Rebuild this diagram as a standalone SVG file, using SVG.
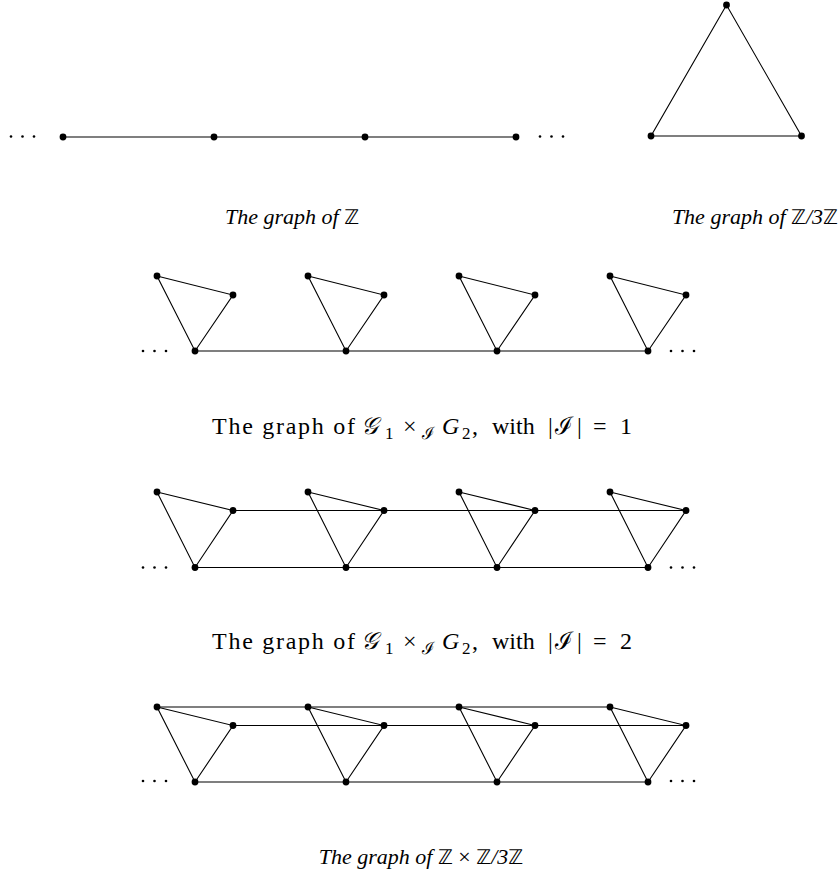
<svg xmlns="http://www.w3.org/2000/svg" width="839" height="877" viewBox="0 0 839 877">
<style>
.e{stroke:#000;stroke-width:1.1;fill:none}
.n{fill:#000}
.t{font-family:"Liberation Serif","DejaVu Serif",serif;font-size:22px;fill:#000}
.u{font-size:24px}
.i{font-style:italic}
.bb{font-family:"DejaVu Sans","Noto Sans",sans-serif;font-style:normal;font-size:20px}
.m{font-family:"DejaVu Serif","Noto Sans",serif;font-style:italic}
.s{font-size:17px}
</style>
<defs>
<circle id="v" r="3.4"/>
<g id="dots"><circle cx="0" cy="0" r="1.3"/><circle cx="11.5" cy="0" r="1.3"/><circle cx="23" cy="0" r="1.3"/></g>
</defs>

<g id="connectors">
<line class="e" x1="63" y1="137" x2="516" y2="137"/>
<polygon class="e" points="726.5,5 651,136 801.5,136"/>
<line class="e" x1="195" y1="351" x2="648" y2="351"/>
<polygon class="e" points="157,276 233,295 195,351"/>
<polygon class="e" points="308,276 384,295 346,351"/>
<polygon class="e" points="459,276 535,295 497,351"/>
<polygon class="e" points="610,276 686,295 648,351"/>
<line class="e" x1="233" y1="510.5" x2="686" y2="510.5"/>
<line class="e" x1="195" y1="567.5" x2="648" y2="567.5"/>
<polygon class="e" points="157,492 233,510.5 195,567.5"/>
<polygon class="e" points="308,492 384,510.5 346,567.5"/>
<polygon class="e" points="459,492 535,510.5 497,567.5"/>
<polygon class="e" points="610,492 686,510.5 648,567.5"/>
<line class="e" x1="157" y1="707" x2="610" y2="707"/>
<line class="e" x1="233" y1="725.5" x2="686" y2="725.5"/>
<line class="e" x1="195" y1="782" x2="648" y2="782"/>
<polygon class="e" points="157,707 233,725.5 195,782"/>
<polygon class="e" points="308,707 384,725.5 346,782"/>
<polygon class="e" points="459,707 535,725.5 497,782"/>
<polygon class="e" points="610,707 686,725.5 648,782"/>
</g>

<g id="graph-Z" class="n">
<use href="#dots" x="11" y="136.5"/>
<use href="#v" x="63" y="137"/><use href="#v" x="214" y="137"/><use href="#v" x="365" y="137"/><use href="#v" x="516" y="137"/>
<use href="#dots" x="540" y="136.5"/>
</g>
<g id="graph-Z3Z" class="n">
<use href="#v" x="726.5" y="5"/><use href="#v" x="651" y="136"/><use href="#v" x="801.5" y="136"/>
</g>
<g id="graph-row1" class="n">
<use href="#dots" x="143" y="351"/>
<use href="#v" x="157" y="276"/><use href="#v" x="233" y="295"/><use href="#v" x="195" y="351"/>
<use href="#v" x="308" y="276"/><use href="#v" x="384" y="295"/><use href="#v" x="346" y="351"/>
<use href="#v" x="459" y="276"/><use href="#v" x="535" y="295"/><use href="#v" x="497" y="351"/>
<use href="#v" x="610" y="276"/><use href="#v" x="686" y="295"/><use href="#v" x="648" y="351"/>
<use href="#dots" x="671" y="351"/>
</g>
<g id="graph-row2" class="n">
<use href="#dots" x="143" y="567.5"/>
<use href="#v" x="157" y="492"/><use href="#v" x="233" y="510.5"/><use href="#v" x="195" y="567.5"/>
<use href="#v" x="308" y="492"/><use href="#v" x="384" y="510.5"/><use href="#v" x="346" y="567.5"/>
<use href="#v" x="459" y="492"/><use href="#v" x="535" y="510.5"/><use href="#v" x="497" y="567.5"/>
<use href="#v" x="610" y="492"/><use href="#v" x="686" y="510.5"/><use href="#v" x="648" y="567.5"/>
<use href="#dots" x="671" y="567.5"/>
</g>
<g id="graph-row3" class="n">
<use href="#dots" x="143" y="781"/>
<use href="#v" x="157" y="707"/><use href="#v" x="233" y="725.5"/><use href="#v" x="195" y="782"/>
<use href="#v" x="308" y="707"/><use href="#v" x="384" y="725.5"/><use href="#v" x="346" y="782"/>
<use href="#v" x="459" y="707"/><use href="#v" x="535" y="725.5"/><use href="#v" x="497" y="782"/>
<use href="#v" x="610" y="707"/><use href="#v" x="686" y="725.5"/><use href="#v" x="648" y="782"/>
<use href="#dots" x="671" y="781"/>
</g>

<g id="captions" class="t">
<text class="i" x="292" y="224" text-anchor="middle">The graph of <tspan class="bb">ℤ</tspan></text>
<text class="i" x="838" y="224" text-anchor="end">The graph of <tspan class="bb">ℤ</tspan>/3<tspan class="bb">ℤ</tspan></text>
<g class="u">
<text x="212" y="434" textLength="143" lengthAdjust="spacing">The graph of</text>
<text class="m" x="361" y="434">𝒢</text>
<text class="s" x="385" y="439">1</text>
<text x="403" y="434">×</text>
<text class="m s" x="422" y="439">ℐ</text>
<text class="i" x="442" y="434">G</text>
<text class="s" x="462" y="439">2</text>
<text x="472" y="434">,</text>
<text x="492" y="434">with</text>
<text x="548" y="434">|</text>
<text class="m" x="555" y="434">ℐ</text>
<text x="577" y="434">|</text>
<text x="593" y="434">=</text>
<text x="620" y="434">1</text>
</g>
<g class="u">
<text x="212" y="649" textLength="143" lengthAdjust="spacing">The graph of</text>
<text class="m" x="361" y="649">𝒢</text>
<text class="s" x="385" y="654">1</text>
<text x="403" y="649">×</text>
<text class="m s" x="422" y="654">ℐ</text>
<text class="i" x="442" y="649">G</text>
<text class="s" x="462" y="654">2</text>
<text x="472" y="649">,</text>
<text x="492" y="649">with</text>
<text x="548" y="649">|</text>
<text class="m" x="555" y="649">ℐ</text>
<text x="577" y="649">|</text>
<text x="593" y="649">=</text>
<text x="620" y="649">2</text>
</g>
<text class="i" x="421" y="864" text-anchor="middle">The graph of <tspan class="bb">ℤ</tspan> <tspan font-style="normal">×</tspan> <tspan class="bb">ℤ</tspan>/3<tspan class="bb">ℤ</tspan></text>
</g>
</svg>
